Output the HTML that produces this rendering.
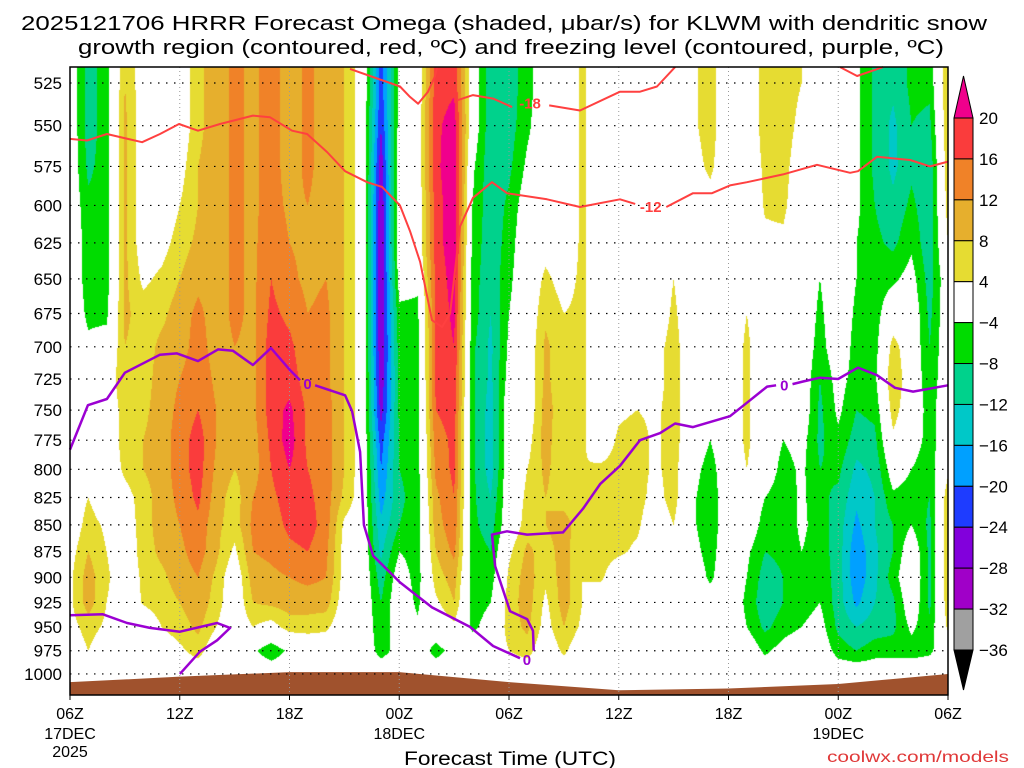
<!DOCTYPE html>
<html><head><meta charset="utf-8">
<style>
html,body{margin:0;padding:0;background:#fff;}
#wrap{position:relative;width:1024px;height:768px;overflow:hidden;background:#fff;}
canvas,svg{position:absolute;left:0;top:0;}
text{font-family:"Liberation Sans","DejaVu Sans",sans-serif;}
</style></head>
<body>
<div id="wrap">
<canvas id="shade" width="1024" height="768"></canvas>
<svg id="ov" width="1024" height="768" xmlns="http://www.w3.org/2000/svg">
<g id="ground"></g>
<g id="grid"></g>
<g id="contours"></g>
<g id="axes"></g>
<g id="cbar"></g>
<text x="504" y="30" text-anchor="middle" font-size="20" textLength="966" lengthAdjust="spacingAndGlyphs">2025121706 HRRR Forecast Omega (shaded, μbar/s) for KLWM with dendritic snow</text>
<text x="511" y="54" text-anchor="middle" font-size="20" textLength="866" lengthAdjust="spacingAndGlyphs">growth region (contoured, red, ºC) and freezing level (contoured, purple, ºC)</text>
<text x="510" y="765" text-anchor="middle" font-size="19" textLength="212" lengthAdjust="spacingAndGlyphs">Forecast Time (UTC)</text>
<text x="918" y="762" text-anchor="middle" font-size="16" fill="#e03838" textLength="182" lengthAdjust="spacingAndGlyphs">coolwx.com/models</text>
</svg>
</div>
<script>
// ---- data ----
const hours=[0,1,2,3,4,5,6,7,8,9,10,11,12,13,14,15,16,17,18,19,20,21,22,23,24,25,26,27,28,29,30,31,32,33,34,35,36,37,38,39,40,41,42,43,44,45,46,47,48];
const levels=[525,550,575,600,625,650,675,700,725,750,775,800,825,850,875,900,925,950,975,1000];
const omega=[
[0,0,0,0,0,0,0,0,0,0,0,0,0,0,2,3,3,2,0,0],
[-10,-10,-9,-7,-6,-6,-5,-3,0,0,0,0,4,6,8,10,10,6,4,0],
[-6,-6,-6,-6,-6,-6,-5,-2,0,0,0,0,0,3,4,5,4,3,0,0],
[8,9,9,9,9,9,9,8,8,6,6,5,2,1,0,0,0,0,0,0],
[1,1,1,1,1,3,6,6,6,7,8,8,6,6,6,5,4.5,0,0,0],
[0,0,0,0,2,5,7,9,10,10,10,10,10,10,9,7,6,4,1,0],
[0,0,2,4,6,8,10,10,12,13,14,14,13,12,11,10,8,6,3,0],
[7,7,8,8,9,11,13,14,15,16,18,18,17,15,14,12,11,9,6,0],
[10,10,10,10,10,10,10,10,11,12,12,11,10,9,9,7,6,4,0,0],
[13,13,13,13,13,13,13,12,10,10,9,8,6,6,3,0,0,0,-2,0],
[11,11,11,11,11,11,11,11,11,11,10,10,12,13,12,10,8,4,-3,0],
[14,14,14,14,15,16,17,18,18,18,17,16,15,14,13,11,9,2,-7,0],
[10,10,10,11,12,13,15,17,18,21,22,20,18,17,15,12,10,6,-3,0],
[13,13,13,12,11,11,12,13,14,15,15,16,17,18,16,13,10,6,-1,0],
[10,10,10,10,10,12,13,13,13,14,14,14,14,14,13,12,10,5,0,0],
[8,8,8,8,8,8,8,8,8,8,8,8,7,3,2,2,1,0,0,0],
[1,1,1,1,1,1,1,1,1,1,1,1,1,0,0,0,0,0,0,0],
[-22,-24,-27,-28,-28,-28,-28,-28,-27,-26,-22,-20,-18,-15,-13,-10,-8,-7,-6,0],
[-3,-2,0,0,0,-2,-5,-6,-7,-7,-8,-8,-9,-8,-4,-1,0,-1,-2,0],
[0,0,0,0,0,-3,-5,-6,-6,-6,-6,-6,-6,-6,-6,-6,-5,-3,0,0],
[18,19,19,18,18,17,17,17,17,16,14,13,11,10,8,6,3,0,-6,0],
[19,22,23,23,23,22,21,20,19,18,17,17,16,15,13,10,8,3,-2,0],
[0,0,-3,-4,-5,-6,-6,-7,-7,-7,-7,-7,-7,-7,-6,-6,-6,-5,0,0],
[-11,-11,-11,-11,-11,-11,-12,-13,-13,-14,-14,-14,-12,-10,-8,-6,-4,-2,0,0],
[-10,-10,-9,-7,-6,-5,-4,-3,-2,0,0,0,0,0,3,5,6,6,4,0],
[-6,-5,-3,-1,0,0,0,0,0,0,2,4,5,6,9,10,10,9,6,0],
[0,0,0,0,2,5,7,9,9,10,10,9,8,8,6,5,3,2,0,0],
[0,0,0,0,0,2,4,5,5,5,4,5,6,10,10,10,10,8,5,0],
[5,5,5,5,5,5,5,5,5,5,5,4,5,5,4,4,4,3,0,0],
[0,0,0,0,0,0,0,0,0,0,0,5,6,6,6,5,0,0,0,0],
[0,0,0,0,0,0,0,0,0,3,5,6,6,6,5,0,0,0,0,0],
[0,0,0,0,0,0,0,0,0,4,6,6,6,5,3,0,0,0,0,0],
[0,0,0,0,0,0,0,2,2,3,3,3,2,0,0,0,0,0,0,0],
[0,0,0,0,0,4,5,6,6,6,6,6,6,4,0,0,0,0,0,0],
[3,3,2,0,0,0,0,0,0,0,0,-2,-3,-3,-2,0,0,0,0,0],
[6,6,5,2,0,0,0,0,0,0,-4,-6,-7,-7,-6,-5,-1,0,0,0],
[0,0,0,0,0,0,0,0,0,0,0,0,0,0,0,0,0,0,0,0],
[0,0,0,0,0,0,4,5,5,5,5,4,0,0,-3,-4,-5,-4,0,0],
[6,6,5,4.5,3,0,0,0,0,0,0,0,-4,-6,-8,-10,-11,-9,-5,0],
[7,7,6,5,3,0,0,0,0,0,-4,-6,-7,-7,-7,-8,-8,-6,-2,0],
[4,2,0,0,0,0,0,0,0,0,-2,-3,-3,-3,-4,-6,-6,-4,0,0],
[0,0,0,0,0,-4,-5,-6,-8,-9,-9,-8,-7,-6,-6,-5,-4,-2,0,0],
[0,0,0,0,0,0,0,0,-2,-3,-5,-7,-9,-10,-10,-10,-10,-9,-6,0],
[-3,-3,-3,-3,-4,-4,-5,-6,-6,-8,-10,-13,-15,-17,-19,-19,-17,-12,-8,0],
[-9,-9,-9,-8,-7,-6,-6,-6,-5,-7,-9,-11,-12,-12,-13,-13,-12,-10,-6,0],
[-11,-13,-13,-11,-9,-5,0,6,8,6,3,-1,-5,-8,-8,-6,-9,-9,-6,0],
[-7,-8,-9,-7,-5,-2,0,0,0,0,-1,-4,-6,-4,0,1,0,-3,-6,0],
[-7,-9,-11,-11,-11,-10,-9,-8,-7,-6,-6,-7,-8,-9,-9,-9,-9,-7,-5,0],
[8,8,7,6,4,0,0,0,0,0,0,3,7,8,8,8,7,5,0,0]
];
const cbLevels=[20,16,12,8,4,-4,-8,-12,-16,-20,-24,-28,-32,-36];
const cbColors=["#fa3c3c","#f08228","#e6af2d","#e6dc32","#ffffff","#00dc00","#00d28c","#00c8c8","#00a0ff","#1e3cff","#8200dc","#a000c8","#a0a0a0"];
const cbTop="#f0008c", cbBottom="#000000";
const groundHours=[0,6,12,18,24,30,36,42,48];
const groundP=[1009,1003,998,998,1009,1018,1016,1011,1000];
const tickLevels=[525,550,575,600,625,650,675,700,725,750,775,800,825,850,875,900,925,950,975,1000];
const xTickHours=[0,6,12,18,24,30,36,42,48];
const xTickLabels=["06Z","12Z","18Z","00Z","06Z","12Z","18Z","00Z","06Z"];
const xDateLabels=[["17DEC","2025"],[],[],["18DEC"],[],[],[],["19DEC"],[]];
// -12 C contour (hours, hPa) segments
const t12Hours=[[0,0.93,2.02,3.94,4.92,5.96,7.0,8.2,10.0,10.94,12.14,12.96,14.05,15.04,16.24,17.06,18.04,18.59,19.14,19.79,20.34,20.78,21.32,22.03,23.07,23.89,26.08,27.88,30.07,30.9],[32.6,34.06,35.1,36.08,37.01,38.98,40.84,42.65,43.08,44.12,45.93,47.02,48]];
const t12P=[[558,559,555,560,555,549,553,549,544,545,553,555,566,578,585,588,600,617,638,680,685,675,614,595,585,592,596,601,596,599],[601,592,592,587,585,580,574,579,578,569,571,575,572]];
// -18 C contour
const t18Hours=[[15.31,16.95,18.04,18.59,19.03,19.57,19.96,20.07],[21.16,22.03,23.13,24.17],[26.2,27.88,30.07,31.16,32.09,33.08],[42.1,43.03,44.45]];
const t18P=[[517,523,527,533,537,530,521,516],[535,532,534,539],[538,541,530,530,527,516],[516,521,516]];
// 0 C freezing level
const fzHours=[[0,0.98,2.02,3.0,4.92,5.85,7.0,8.09,8.91,10.0,10.99,12.03,12.58],[13.4,15.04,15.42,15.86,16.07,16.57,18.04,19.79,21.87,23.13,24.6],[25.35,25.31,24.99,24.06,23.24,23.07,23.89,24.99,26.95,28.05,28.98,30.07,31.16,32.26,33.08,34.06,36.08,37.01,38.11,38.6],[39.5,40.08,41.0,41.99,43.08,44.12,45.1,46.09,48],[0,1.8,3.12,4.37,6.01,8.04,8.75,8.04,7.1,6.01]];
const fzP=[[783,746,741,720,706,705,711,702,703,714,701,718,726],[730,738,751,785,850,879,905,930,950,970,983],[975,954,942,934,889,859,856,859,857,835,813,797,775,769,761,764,755,744,731,730],[729,727,724,725,716,722,732,735,730],[938,937,946,951,955,946,951,964,976,1000]];
const t12Labels=[[31.75,601]], t18Labels=[[25.15,537]], fzLabels=[[12.99,729],[24.98,985],[39.05,730]];

// ---- scales ----
const X0=70,X1=948,Y0=67,Y1=695;
function xOf(h){return X0+h*(X1-X0)/48;}
function yOf(p){return 83+917.1*Math.log(p/525);}
function colorOf(v){
  if(v>=cbLevels[0])return cbTop;
  for(let i=0;i<cbLevels.length-1;i++){ if(v>=cbLevels[i+1])return cbColors[i]; }
  return cbBottom;
}
function hex(c){return [parseInt(c.substr(1,2),16),parseInt(c.substr(3,2),16),parseInt(c.substr(5,2),16)];}

// ---- shading ----
(function(){
  const cv=document.getElementById('shade'),ctx=cv.getContext('2d');
  const img=ctx.createImageData(X1-X0,Y1-Y0);
  const lnL=levels.map(p=>Math.log(p));
  const rowIdx=[];
  for(let y=Y0;y<Y1;y++){
    let lp=Math.log(525)+(y+0.5-83)/917.1, r;
    if(lp<=lnL[0])r=0; else if(lp>=lnL[lnL.length-1])r=lnL.length-1;
    else{for(let i=0;i<lnL.length-1;i++){if(lp<=lnL[i+1]){r=i+(lp-lnL[i])/(lnL[i+1]-lnL[i]);break;}}}
    rowIdx.push(r);
  }
  const cache={};
  for(let x=X0;x<X1;x++){
    let h=(x+0.5-X0)*48/(X1-X0);
    let c=0; while(c<hours.length-2&&hours[c+1]<h)c++;
    let fx=Math.max(0,Math.min(1,(h-hours[c])/(hours[c+1]-hours[c])));
    for(let j=0;j<rowIdx.length;j++){
      let r=rowIdx[j],r0=Math.min(Math.floor(r),levels.length-2),fy=r-r0;
      let a=omega[c][r0]*(1-fy)+omega[c][r0+1]*fy;
      let b=omega[c+1][r0]*(1-fy)+omega[c+1][r0+1]*fy;
      let v=a*(1-fx)+b*fx;
      let col=colorOf(v); let rgb=cache[col]||(cache[col]=hex(col));
      let k=(j*(X1-X0)+(x-X0))*4;
      img.data[k]=rgb[0];img.data[k+1]=rgb[1];img.data[k+2]=rgb[2];img.data[k+3]=255;
    }
  }
  ctx.putImageData(img,X0,Y0);
})();

// ---- overlay ----
const NS="http://www.w3.org/2000/svg";
function mk(tag,attrs,parent){const e=document.createElementNS(NS,tag);for(const k in attrs)e.setAttribute(k,attrs[k]);parent.appendChild(e);return e;}
const gGround=document.getElementById('ground'),gGrid=document.getElementById('grid'),gCont=document.getElementById('contours'),gAxes=document.getElementById('axes'),gCb=document.getElementById('cbar');

// terrain
let gp=groundHours.map((h,i)=>xOf(h)+","+yOf(groundP[i])).join(" ");
let terr=mk('polygon',{points:X0+","+Y1+" "+gp+" "+X1+","+Y1,fill:"#a0522d"},gGround);



// grid
tickLevels.forEach(p=>{
  let y=yOf(p);
  let l=mk('line',{x1:X0,x2:X1,y1:y,y2:y,stroke:"#000","stroke-width":1.2,"stroke-dasharray":"1.5 6.5"},gGrid);
  
  
  let t=mk('text',{x:62,y:y+6,"text-anchor":"end","font-size":17},gAxes);
  t.textContent=p;
  
  
});
xTickHours.forEach((h,i)=>{
  let x=xOf(h);
  if(i>0&&i<xTickHours.length-1){
    let l=mk('line',{x1:x,x2:x,y1:Y0,y2:Y1,stroke:"#999","stroke-width":1,"stroke-dasharray":"1 3"},gGrid);
    
    
  }
  let tk=mk('line',{x1:x,x2:x,y1:Y1,y2:Y1+5,stroke:"#000","stroke-width":1},gAxes);
  
  
  let t=mk('text',{x:x,y:719,"text-anchor":"middle","font-size":16},gAxes);
  t.textContent=xTickLabels[i];
  
  
  xDateLabels[i].forEach((s,k)=>{
    let d=mk('text',{x:x,y:739+k*18,"text-anchor":"middle","font-size":16},gAxes);
    d.textContent=s;
    
    
  });
});

// contours
function drawLines(hs,ps,color,w,name){
  hs.forEach((seg,i)=>{
    let pts=seg.map((h,k)=>xOf(h).toFixed(1)+","+yOf(ps[i][k]).toFixed(1)).join(" ");
    let pl=mk('polyline',{points:pts,fill:"none",stroke:color,"stroke-width":w,"stroke-linejoin":"round"},gCont);
    
    
  });
}
drawLines(t12Hours,t12P,"#ff4040",2,"contour-minus12");
drawLines(t18Hours,t18P,"#ff4040",2,"contour-minus18");
drawLines(fzHours,fzP,"#9b00d2",2.5,"freezing-level-line");
function labels(arr,txt,color,name){
  arr.forEach(a=>{
    let t=mk('text',{x:xOf(a[0]),y:yOf(a[1])+5,"text-anchor":"middle","font-size":15,"font-weight":"bold",fill:color},gCont);
    t.textContent=txt;
    
    
  });
}
labels(t12Labels,"-12","#ff4040","contour-label-minus12");
labels(t18Labels,"-18","#ff4040","contour-label-minus18");
labels(fzLabels,"0","#9b00d2","contour-label-zero");

// frame
let fr=mk('rect',{x:X0,y:Y0,width:X1-X0,height:Y1-Y0,fill:"none",stroke:"#000","stroke-width":1.5},gAxes);



// colorbar
const CBX=954,CBW=19,CBY0=118,CBY1=650;
const step=(CBY1-CBY0)/(cbLevels.length-1);
cbColors.forEach((c,i)=>{
  let r=mk('rect',{x:CBX,y:CBY0+i*step,width:CBW,height:step,fill:c,stroke:"#000","stroke-width":1},gCb);
  
  
});
let tt=mk('polygon',{points:CBX+","+CBY0+" "+(CBX+CBW)+","+CBY0+" "+(CBX+CBW/2)+","+(CBY0-42),fill:cbTop,stroke:"#000","stroke-width":1},gCb);


let tb=mk('polygon',{points:CBX+","+CBY1+" "+(CBX+CBW)+","+CBY1+" "+(CBX+CBW/2)+","+(CBY1+40),fill:cbBottom,stroke:"#000","stroke-width":1},gCb);


cbLevels.forEach((v,i)=>{
  let t=mk('text',{x:979,y:CBY0+i*step+6,"font-size":17},gCb);
  t.textContent=(v<0?"−":"")+Math.abs(v);
  
  
});
</script>
</body></html>
